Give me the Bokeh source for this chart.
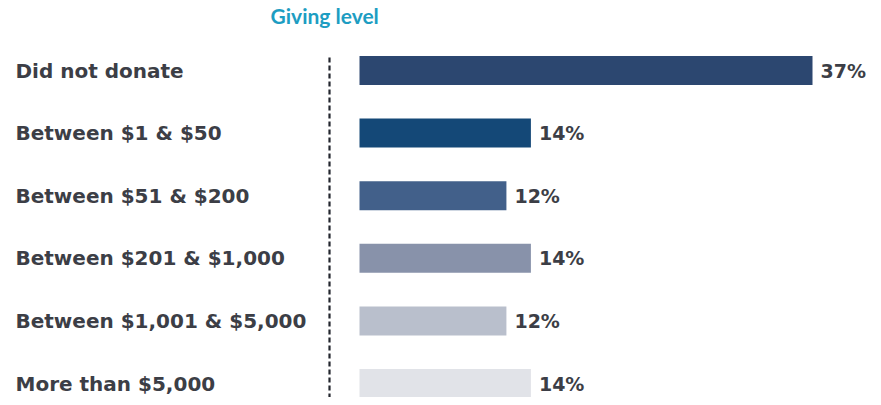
from bokeh.plotting import figure
from bokeh.models import Range1d, ColumnDataSource, Label
from bokeh.core.properties import value
from bokeh.embed import file_html
from bokeh.resources import INLINE

categories = ["Did not donate", "Between $1 & $50", "Between $51 & $200",
              "Between $201 & $1,000", "Between $1,001 & $5,000", "More than $5,000"]
values = [37, 14, 12, 14, 12, 14]
colors = ["#2c4770", "#144877", "#42608a", "#8892aa", "#b9bfcc", "#e1e3e8"]
title_text = "Giving level"

W, H = 873, 397
# pixel layout helpers (frame pixels -> data)
x0_px, px_per_pct = 359, 453 / 37
xa = -x0_px / px_per_pct
xb = xa + W / px_per_pct
y0_px, px_per_row = 70, 62.6
ya = -y0_px / px_per_row
yb = ya + H / px_per_row

def xd(px):
    return xa + px / px_per_pct

def yd(px):
    return ya + px / px_per_row

p = figure(width=W, height=H, output_backend="svg", toolbar_location=None,
           x_range=Range1d(xa, xb), y_range=Range1d(yb, ya),
           min_border=0, min_border_left=0, min_border_right=0,
           min_border_top=0, min_border_bottom=0)
p.axis.visible = False
p.grid.visible = False
p.outline_line_color = None
p.background_fill_color = "white"
p.border_fill_color = "white"

ys = list(range(len(categories)))
src = ColumnDataSource(dict(y=ys, v=values, c=colors, cat=categories,
                            lab=[f"{v}%" for v in values]))

p.hbar(y="y", left=0, right="v", height=29 / px_per_row, fill_color="c",
       line_color=None, source=src)

p.text(x=xd(15), y="y", text="cat", source=src, text_font=value("DejaVu Sans"),
       text_font_style="bold", text_font_size="20px", text_color="#3c3e46",
       text_baseline="middle", text_align="left")

p.text(x="v", y="y", text="lab", source=src, x_offset=8,
       text_font=value("DejaVu Sans"), text_font_style="bold", text_font_size="19px",
       text_color="#3c3e46", text_baseline="middle", text_align="left")

p.segment(x0=[xd(329)], y0=[yd(57)], x1=[xd(329)], y1=[yd(H + 5)],
          line_color="#23262e", line_width=2.2, line_dash="5 3")

p.add_layout(Label(x=xd(270), y=yd(15), text=title_text, text_font="Lato",
                   text_font_style="bold", text_font_size="21px", text_color="#1d9dc2",
                   text_baseline="middle", text_align="left"))

open("out.html", "w").write(file_html(p, INLINE))
